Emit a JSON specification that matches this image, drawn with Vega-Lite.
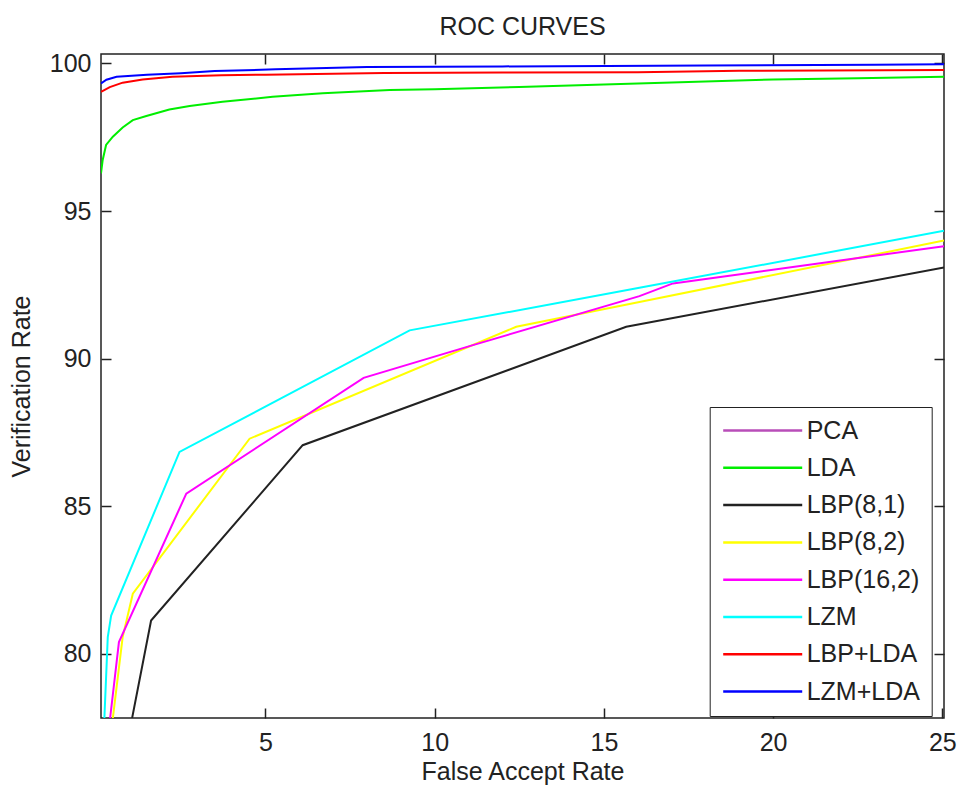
{
  "$schema": "https://vega.github.io/schema/vega-lite/v6.json",
  "width": 843,
  "height": 664,
  "autosize": "none",
  "padding": {"left": 101, "top": 54, "right": 13, "bottom": 71},
  "background": "white",
  "title": {"text": "ROC CURVES", "fontSize": 25, "font": "Liberation Sans", "fontWeight": "normal", "color": "#222", "offset": 11},
  "config": {
    "view": {"stroke": "#222", "strokeWidth": 1.5},
    "axis": {"grid": false, "domain": false, "tickColor": "#222", "tickWidth": 1.5, "tickSize": -10,
      "labelFont": "Liberation Sans", "labelFontSize": 25, "labelColor": "#222",
      "titleFont": "Liberation Sans", "titleFontSize": 25, "titleFontWeight": "normal", "titleColor": "#222"}
  },
  "data": {"values": [
    {"series": "LDA", "x": 0.14, "y": 96.28},
    {"series": "LDA", "x": 0.19, "y": 96.73},
    {"series": "LDA", "x": 0.29, "y": 97.24},
    {"series": "LDA", "x": 0.49, "y": 97.52},
    {"series": "LDA", "x": 0.78, "y": 97.83},
    {"series": "LDA", "x": 1.08, "y": 98.08},
    {"series": "LDA", "x": 1.48, "y": 98.22},
    {"series": "LDA", "x": 2.16, "y": 98.44},
    {"series": "LDA", "x": 2.76, "y": 98.56},
    {"series": "LDA", "x": 3.73, "y": 98.70},
    {"series": "LDA", "x": 5.21, "y": 98.87},
    {"series": "LDA", "x": 6.69, "y": 98.99},
    {"series": "LDA", "x": 8.67, "y": 99.10},
    {"series": "LDA", "x": 10, "y": 99.13},
    {"series": "LDA", "x": 12.5, "y": 99.2},
    {"series": "LDA", "x": 15, "y": 99.29},
    {"series": "LDA", "x": 17.5, "y": 99.37},
    {"series": "LDA", "x": 20, "y": 99.46},
    {"series": "LDA", "x": 22.5, "y": 99.5},
    {"series": "LDA", "x": 25.05, "y": 99.55},
    {"series": "LBP(8,1)", "x": 1.06, "y": 77.83},
    {"series": "LBP(8,1)", "x": 1.62, "y": 81.13},
    {"series": "LBP(8,1)", "x": 6.1, "y": 87.07},
    {"series": "LBP(8,1)", "x": 15.66, "y": 91.08},
    {"series": "LBP(8,1)", "x": 25.05, "y": 93.09},
    {"series": "LBP(8,2)", "x": 0.49, "y": 77.83},
    {"series": "LBP(8,2)", "x": 0.78, "y": 80.57},
    {"series": "LBP(8,2)", "x": 1.08, "y": 82.04},
    {"series": "LBP(8,2)", "x": 4.53, "y": 87.29},
    {"series": "LBP(8,2)", "x": 12.41, "y": 91.08},
    {"series": "LBP(8,2)", "x": 16.05, "y": 91.92},
    {"series": "LBP(8,2)", "x": 25.05, "y": 94.0},
    {"series": "LBP(16,2)", "x": 0.41, "y": 77.83},
    {"series": "LBP(16,2)", "x": 0.67, "y": 80.4},
    {"series": "LBP(16,2)", "x": 2.66, "y": 85.43},
    {"series": "LBP(16,2)", "x": 7.9, "y": 89.35},
    {"series": "LBP(16,2)", "x": 11.13, "y": 90.46},
    {"series": "LBP(16,2)", "x": 16.05, "y": 92.12},
    {"series": "LBP(16,2)", "x": 17.04, "y": 92.55},
    {"series": "LBP(16,2)", "x": 25.05, "y": 93.81},
    {"series": "LZM", "x": 0.24, "y": 77.83},
    {"series": "LZM", "x": 0.34, "y": 80.57},
    {"series": "LZM", "x": 0.44, "y": 81.3},
    {"series": "LZM", "x": 2.46, "y": 86.84},
    {"series": "LZM", "x": 9.26, "y": 90.96},
    {"series": "LZM", "x": 16.05, "y": 92.4},
    {"series": "LZM", "x": 25.05, "y": 94.33},
    {"series": "LBP+LDA", "x": 0.14, "y": 99.04},
    {"series": "LBP+LDA", "x": 0.4, "y": 99.2},
    {"series": "LBP+LDA", "x": 0.78, "y": 99.35},
    {"series": "LBP+LDA", "x": 1.37, "y": 99.46},
    {"series": "LBP+LDA", "x": 2.25, "y": 99.55},
    {"series": "LBP+LDA", "x": 3.7, "y": 99.6},
    {"series": "LBP+LDA", "x": 5, "y": 99.62},
    {"series": "LBP+LDA", "x": 8.5, "y": 99.68},
    {"series": "LBP+LDA", "x": 12, "y": 99.69},
    {"series": "LBP+LDA", "x": 16, "y": 99.7},
    {"series": "LBP+LDA", "x": 19, "y": 99.75},
    {"series": "LBP+LDA", "x": 25.05, "y": 99.78},
    {"series": "LZM+LDA", "x": 0.14, "y": 99.32},
    {"series": "LZM+LDA", "x": 0.3, "y": 99.45},
    {"series": "LZM+LDA", "x": 0.6, "y": 99.55},
    {"series": "LZM+LDA", "x": 1.5, "y": 99.62},
    {"series": "LZM+LDA", "x": 2.5, "y": 99.67},
    {"series": "LZM+LDA", "x": 3.5, "y": 99.74},
    {"series": "LZM+LDA", "x": 5.3, "y": 99.8},
    {"series": "LZM+LDA", "x": 8, "y": 99.88},
    {"series": "LZM+LDA", "x": 12, "y": 99.9},
    {"series": "LZM+LDA", "x": 18, "y": 99.93},
    {"series": "LZM+LDA", "x": 23, "y": 99.96},
    {"series": "LZM+LDA", "x": 25.05, "y": 99.97}
  ]},
  "layer": [
    {
      "mark": {"type": "line", "strokeWidth": 2, "clip": true},
      "encoding": {
        "x": {"field": "x", "type": "quantitative",
          "scale": {"domain": [0.14, 25.05], "nice": false, "zero": false},
          "axis": {"orient": "bottom", "values": [5, 10, 15, 20, 25], "title": "False Accept Rate", "labelPadding": 22, "titlePadding": 4}},
        "y": {"field": "y", "type": "quantitative",
          "scale": {"domain": [77.83, 100.32], "nice": false, "zero": false},
          "axis": {"orient": "left", "values": [80, 85, 90, 95, 100], "title": "Verification Rate", "labelPadding": 20, "titlePadding": 15}},
        "color": {"field": "series", "type": "nominal",
          "scale": {"domain": ["PCA", "LDA", "LBP(8,1)", "LBP(8,2)", "LBP(16,2)", "LZM", "LBP+LDA", "LZM+LDA"],
            "range": ["#b84db8", "#00ee00", "#222222", "#ffff00", "#ff00ff", "#00ffff", "#ff0000", "#0000ff"]},
          "legend": {"title": null, "orient": "none", "legendX": 608.7, "legendY": 353,
            "symbolType": "M-1,0H6.9", "symbolSize": 400, "symbolStrokeWidth": 2.5, "symbolFillColor": "transparent",
            "labelFont": "Liberation Sans", "labelFontSize": 25, "labelColor": "#222", "labelOffset": 61,
            "rowPadding": 11.3, "padding": 11, "strokeColor": "#222", "fillColor": "white", "cornerRadius": 0, "labelLimit": 300}}
      }
    },
    {
      "mark": {"type": "line", "strokeOpacity": 0, "clip": true},
      "encoding": {
        "x": {"field": "x", "type": "quantitative",
          "scale": {"domain": [0.14, 25.05], "nice": false, "zero": false},
          "axis": {"orient": "top", "values": [5, 10, 15, 20, 25], "labels": false, "title": null}},
        "y": {"field": "y", "type": "quantitative",
          "scale": {"domain": [77.83, 100.32], "nice": false, "zero": false},
          "axis": {"orient": "right", "values": [80, 85, 90, 95, 100], "labels": false, "title": null}},
        "detail": {"field": "series"}
      }
    }
  ],
  "resolve": {"axis": {"x": "independent", "y": "independent"}}
}
